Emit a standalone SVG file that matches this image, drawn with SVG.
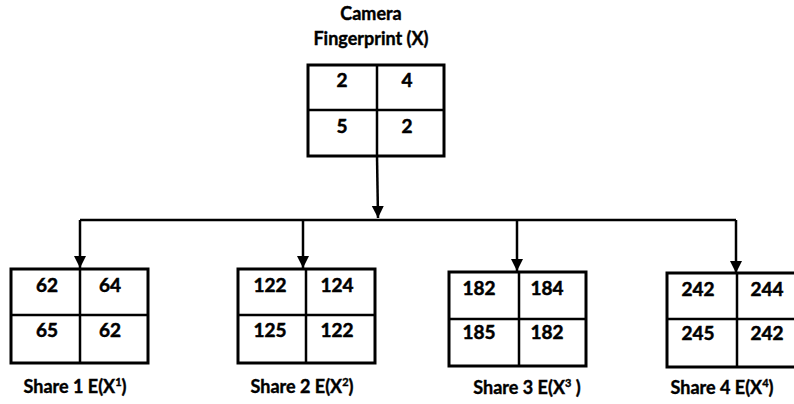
<svg xmlns="http://www.w3.org/2000/svg" width="794" height="404" viewBox="0 0 794 404">
<style>
.box{fill:#fff;stroke:#000;stroke-width:3}
.grid{stroke:#000;stroke-width:2.5;fill:none}
.num{font-family:Lato,"Open Sans",sans-serif;font-weight:bold;font-size:19px;fill:#000;stroke:#000;stroke-width:0.5;text-anchor:middle}
.lbl{font-family:Lato,"Open Sans",sans-serif;font-weight:bold;font-size:18px;fill:#000;stroke:#000;stroke-width:0.4;text-anchor:middle}
.sup{font-size:11px}
.con{stroke:#000;stroke-width:2.5;fill:none}
</style>
<defs>
<marker id="arr" markerWidth="12" markerHeight="13" refX="10" refY="5" orient="auto" markerUnits="userSpaceOnUse" viewBox="0 0 10 10">
<path d="M0,0 L10,5 L0,10 Z" fill="#000"/>
</marker>
</defs>
<g id="camera">
<text class="lbl" x="371" y="20">Camera</text>
<text class="lbl" x="371" y="45">Fingerprint (X)</text>
<rect class="box" x="308" y="65" width="136" height="91"/>
<path class="grid" d="M377,65 V156 M308,110 H444"/>
<text class="num" x="342" y="87">2</text>
<text class="num" x="407" y="87">4</text>
<text class="num" x="342" y="133">5</text>
<text class="num" x="407" y="133">2</text>
</g>
<g id="connectors">
<path class="con" d="M377,156 L378,218" marker-end="url(#arr)"/>
<path class="con" d="M80,220 H736"/>
<path class="con" d="M80,220 V268" marker-end="url(#arr)"/>
<path class="con" d="M303,220 V268" marker-end="url(#arr)"/>
<path class="con" d="M517,220 V271" marker-end="url(#arr)"/>
<path class="con" d="M736,220 V273" marker-end="url(#arr)"/>
</g>
<g id="share1">
<rect class="box" x="11" y="269" width="137" height="94"/>
<path class="grid" d="M80,269 V363 M11,315 H148"/>
<text class="num" x="47" y="292">62</text>
<text class="num" x="110" y="292">64</text>
<text class="num" x="47" y="337">65</text>
<text class="num" x="110" y="337">62</text>
<text class="lbl" x="75" y="393">Share 1 E(X<tspan class="sup" dy="-7">1</tspan><tspan dy="7">)</tspan></text>
</g>
<g id="share2">
<rect class="box" x="238" y="269" width="137" height="94"/>
<path class="grid" d="M306,269 V363 M238,315 H375"/>
<text class="num" x="270" y="292">122</text>
<text class="num" x="337" y="292">124</text>
<text class="num" x="270" y="337">125</text>
<text class="num" x="337" y="337">122</text>
<text class="lbl" x="302" y="393">Share 2 E(X<tspan class="sup" dy="-7">2</tspan><tspan dy="7">)</tspan></text>
</g>
<g id="share3">
<rect class="box" x="449" y="272" width="137" height="94"/>
<path class="grid" d="M519,272 V366 M449,319 H586"/>
<text class="num" x="479" y="295">182</text>
<text class="num" x="547" y="295">184</text>
<text class="num" x="479" y="339">185</text>
<text class="num" x="547" y="339">182</text>
<text class="lbl" x="527" y="394">Share 3 E(X<tspan class="sup" dy="-7">3</tspan><tspan dy="7"> )</tspan></text>
</g>
<g id="share4">
<rect class="box" x="667" y="273" width="140" height="94"/>
<path class="grid" d="M737,273 V367 M667,319 H807"/>
<text class="num" x="698" y="296">242</text>
<text class="num" x="767" y="296">244</text>
<text class="num" x="698" y="340">245</text>
<text class="num" x="767" y="340">242</text>
<text class="lbl" x="722" y="394">Share 4 E(X<tspan class="sup" dy="-7">4</tspan><tspan dy="7">)</tspan></text>
</g>
</svg>
